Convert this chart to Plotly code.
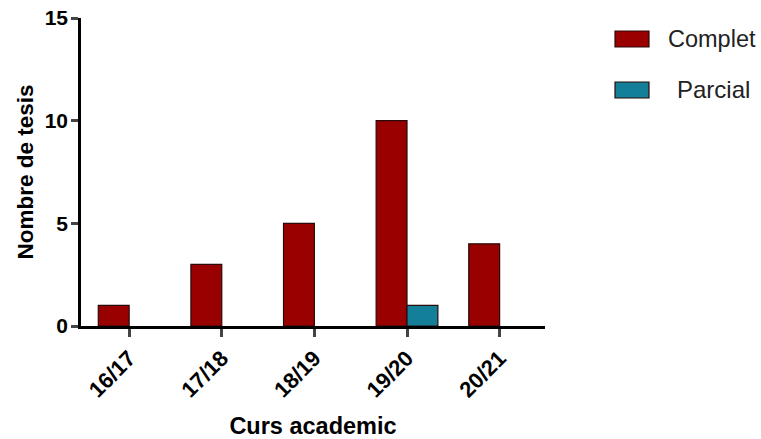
import plotly.graph_objects as go

categories = ["16/17", "17/18", "18/19", "19/20", "20/21"]
complet = [1, 3, 5, 10, 4]
parcial = [0, 0, 0, 1, 0]
series_names = ["Complet", "Parcial"]
colors = ["#990000", "#137f98"]

L, R, T, B = 81, 545, 18, 326
W, H = 761, 439

fig = go.Figure()
for name, vals, col in zip(series_names, [complet, parcial], colors):
    fig.add_trace(go.Bar(
        x=list(range(len(categories))), y=vals, name=name,
        marker=dict(color=col,
                    line=dict(color="#2a0a0a",
                              width=[1.2 if v != 0 else 0 for v in vals])),
        showlegend=False,
    ))

font_fam = "Liberation Sans, Arial, sans-serif"
fig.update_layout(
    width=W, height=H,
    margin=dict(l=L, r=W - R, t=T, b=H - B, autoexpand=False),
    paper_bgcolor="white", plot_bgcolor="white",
    barmode="group", bargap=1/3, bargroupgap=0,
    font=dict(family=font_fam, color="black"),
    xaxis=dict(
        range=[-0.52, 4.49], tickmode="array",
        tickvals=list(range(len(categories))), ticktext=categories,
        tickangle=-45, ticks="outside", ticklen=8, tickwidth=2.5,
        showline=True, linewidth=2.5, linecolor="black", showgrid=False,
        zeroline=False, automargin=False,
        tickfont=dict(size=22, family=font_fam, weight="bold"),
        title=dict(text="<b>Curs academic</b>", font=dict(size=23.5), standoff=19),
    ),
    yaxis=dict(
        range=[0, 15], tickvals=[0, 5, 10, 15],
        ticks="outside", ticklen=7, tickwidth=2.5,
        showline=True, linewidth=2.5, linecolor="black", showgrid=False,
        zeroline=False, automargin=False, ticklabelstandoff=-1,
        tickfont=dict(size=21, family=font_fam, weight="bold"),
        title=dict(text="<b>Nombre de tesis</b>", font=dict(size=22.5), standoff=5),
    ),
)

# Legend drawn as boxes + text to match the large swatches of the reference
for i, (name, col) in enumerate(zip(series_names, colors)):
    yc = [39, 90][i]
    fig.add_shape(type="rect", xref="paper", yref="paper",
                  x0=(615 - L) / (R - L), x1=(649 - L) / (R - L),
                  y0=(B - (yc + 8)) / (B - T), y1=(B - (yc - 8)) / (B - T),
                  fillcolor=col, line=dict(color="#2a0a0a", width=1.2))
    fig.add_annotation(xref="paper", yref="paper",
                       x=([666, 675][i] - L) / (R - L), y=(B - yc) / (B - T),
                       xanchor="left", yanchor="middle", showarrow=False,
                       text=name, font=dict(size=[23.5, 24][i], color="#222"))

fig.write_html("out.html", config={"displayModeBar": False},
               post_script="document.body.style.margin='0';document.body.style.overflow='hidden';")
